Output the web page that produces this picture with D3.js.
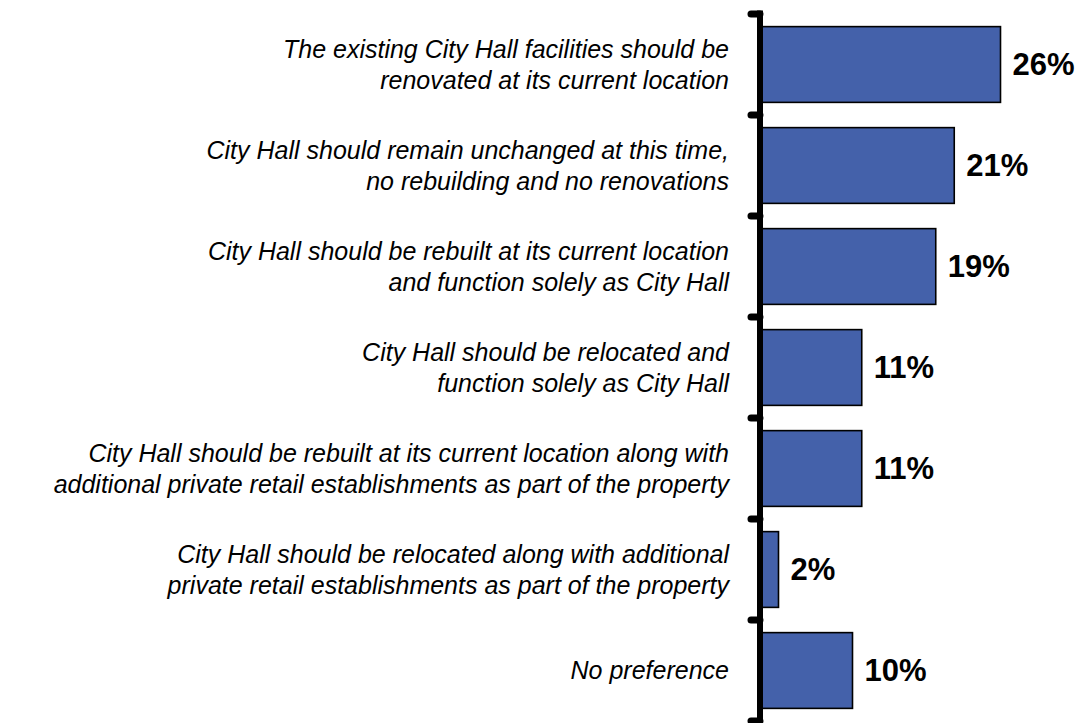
<!DOCTYPE html>
<html>
<head>
<meta charset="utf-8">
<script src="https://cdn.jsdelivr.net/npm/d3@7"></script>
<style>
  html, body { margin: 0; padding: 0; background: #ffffff; }
  svg { display: block; }
</style>
</head>
<body>
<svg id="chart" width="1082" height="723"></svg>
<script>
// Survey responses: preferred option for City Hall
const categories = [
  ["The existing City Hall facilities should be", "renovated at its current location"],
  ["City Hall should remain unchanged at this time,", "no rebuilding and no renovations"],
  ["City Hall should be rebuilt at its current location", "and function solely as City Hall"],
  ["City Hall should be relocated and", "function solely as City Hall"],
  ["City Hall should be rebuilt at its current location along with", "additional private retail establishments as part of the property"],
  ["City Hall should be relocated along with additional", "private retail establishments as part of the property"],
  ["No preference"]
];
const values = [26, 21, 19, 11, 11, 2, 10];
const valueLabels = ["26%", "21%", "19%", "11%", "11%", "2%", "10%"];

const svg = d3.select("#chart");
const axisX = 760;

const y = d3.scaleBand()
  .domain(d3.range(categories.length))
  .range([14, 721])
  .paddingInner(0.25)
  .paddingOuter(0.125);

const x = d3.scaleLinear()
  .domain([0, 30])
  .range([axisX, axisX + 30 * 9.25]);

// bars
svg.append("g")
  .selectAll("rect")
  .data(values)
  .join("rect")
  .attr("x", x(0))
  .attr("y", (d, i) => y(i))
  .attr("width", d => x(d) - x(0))
  .attr("height", y.bandwidth())
  .attr("fill", "#4461aa")
  .attr("stroke", "#000")
  .attr("stroke-width", 1.6);

// value labels
svg.append("g")
  .selectAll("text")
  .data(values)
  .join("text")
  .attr("x", d => x(d) + 12)
  .attr("y", (d, i) => y(i) + y.bandwidth() / 2)
  .attr("dy", "0.35em")
  .attr("font-family", "Liberation Sans, Arial, sans-serif")
  .attr("font-weight", "bold")
  .attr("font-size", 31)
  .attr("fill", "#000")
  .text((d, i) => valueLabels[i]);

// category axis: thick line with rounded ticks at band boundaries
const axisG = svg.append("g");
const boundaries = d3.range(categories.length + 1).map(i => 14 + i * y.step());
axisG.selectAll("line.tick")
  .data(boundaries)
  .join("line")
  .attr("class", "tick")
  .attr("x1", axisX - 9)
  .attr("x2", axisX)
  .attr("y1", d => d)
  .attr("y2", d => d)
  .attr("stroke", "#000")
  .attr("stroke-width", 7)
  .attr("stroke-linecap", "round");
axisG.append("line")
  .attr("x1", axisX)
  .attr("x2", axisX)
  .attr("y1", 10.5)
  .attr("y2", 730)
  .attr("stroke", "#000")
  .attr("stroke-width", 6);

// category labels
const lineH = 31.5;
const labels = svg.append("g")
  .selectAll("text")
  .data(categories)
  .join("text")
  .attr("text-anchor", "end")
  .attr("font-family", "Liberation Sans, Arial, sans-serif")
  .attr("font-style", "italic")
  .attr("font-size", 25)
  .attr("fill", "#000");

labels.each(function(lines, i) {
  const cy = y(i) + y.bandwidth() / 2;
  const top = cy - (lines.length - 1) * lineH / 2;
  d3.select(this).selectAll("tspan")
    .data(lines)
    .join("tspan")
    .attr("x", 729)
    .attr("y", (d, j) => top + j * lineH)
    .attr("dy", "0.35em")
    .text(d => d);
});
</script>
</body>
</html>
